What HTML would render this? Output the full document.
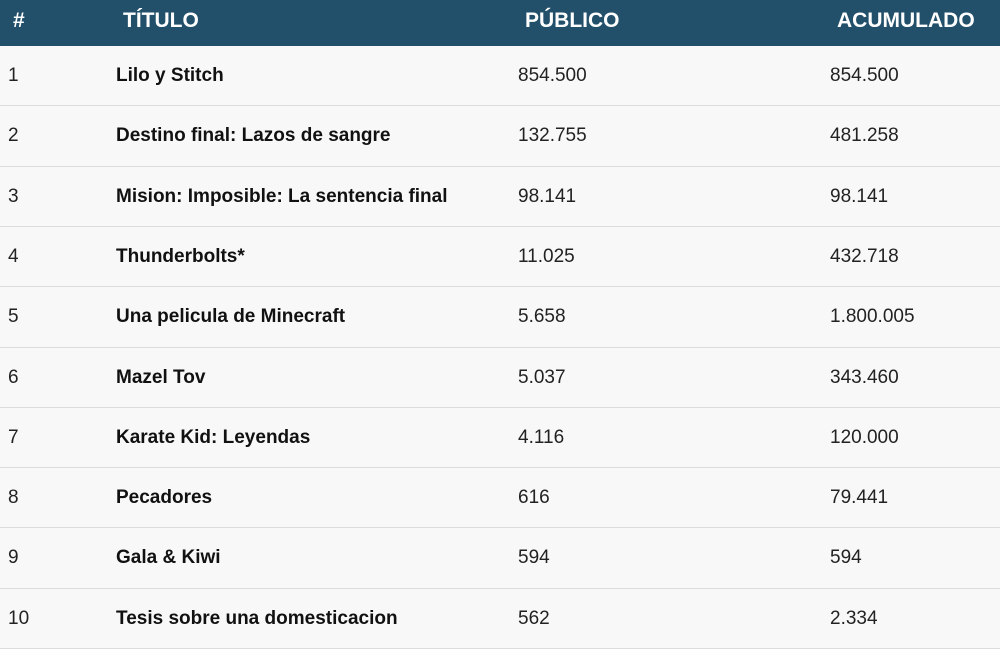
<!DOCTYPE html>
<html><head><meta charset="utf-8"><style>
body{margin:0;width:1000px;height:644px;overflow:hidden;background:#f8f8f8;font-family:"Liberation Sans",sans-serif;}
.hdr{position:absolute;left:0;top:0;width:1000px;height:45px;background:#22506b;}
.hdr div{position:absolute;top:9px;color:#fff;font-weight:bold;font-size:21px;}
.row{position:absolute;left:0;width:1000px;height:60px;border-top:1px solid #dcdcdc;background:#f8f8f8;}
.row div{position:absolute;top:19px;font-size:19px;color:#222;}
.row .t{font-weight:bold;color:#111;}
</style></head><body>
<div class="hdr">
<div style="left:13px">#</div>
<div style="left:123px">TÍTULO</div>
<div style="left:525px">PÚBLICO</div>
<div style="left:837px">ACUMULADO</div>
</div>
<div id="rows"></div>
<script>
const titles=["Lilo y Stitch","Destino final: Lazos de sangre","Mision: Imposible: La sentencia final","Thunderbolts*","Una pelicula de Minecraft","Mazel Tov","Karate Kid: Leyendas","Pecadores","Gala & Kiwi","Tesis sobre una domesticacion"];
const publico=["854.500","132.755","98.141","11.025","5.658","5.037","4.116","616","594","562"];
const acumulado=["854.500","481.258","98.141","432.718","1.800.005","343.460","120.000","79.441","594","2.334"];
const c=document.getElementById('rows');
titles.forEach((t,i)=>{
 const r=document.createElement('div');r.className='row';
 
 
 const top=Math.round(45+i*60.3);
 r.style.top=top+'px';
 r.style.height=(Math.round(45+(i+1)*60.3)-top-1)+'px';
 if(i===0) r.style.borderTop='1px solid #22506b';
 const cells=[[String(i+1),8,''],[t,116,'t'],[publico[i],518,''],[acumulado[i],830,'']];
 const names=['rank-cell','title-cell','audience-cell','cumulative-cell'];
 cells.forEach((d,j)=>{const e=document.createElement('div');e.textContent=d[0];e.style.left=d[1]+'px';if(d[2])e.className=d[2];
 
 
 r.appendChild(e);});
 c.appendChild(r);
});
const last=document.createElement('div');


last.style.cssText='position:absolute;left:0;width:1000px;height:0;border-top:1px solid #dcdcdc;top:'+Math.round(45+10*60.3)+'px';
c.appendChild(last);
</script>
</body></html>
